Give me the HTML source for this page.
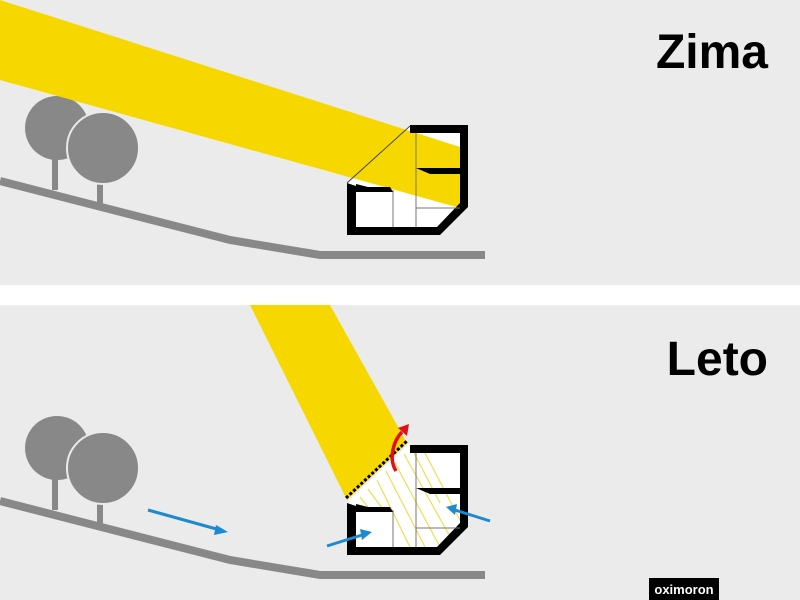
<!DOCTYPE html>
<html><head><style>
body{margin:0;background:#fff}
svg{display:block}
text{font-family:"Liberation Sans",sans-serif}
</style></head><body>
<svg width="800" height="600" viewBox="0 0 800 600" xmlns="http://www.w3.org/2000/svg">
<defs>
<clipPath id="c1"><rect x="0" y="0" width="460" height="285"/></clipPath>
<g id="trees">
<rect x="52" y="140" width="6" height="50" fill="#888"/>
<rect x="97" y="170" width="6" height="35" fill="#888"/>
<circle cx="57" cy="128" r="32" fill="#888"/>
<circle cx="103" cy="148" r="36" fill="#888" stroke="#ebebeb" stroke-width="2"/>
<polyline points="0,181 230,240 320,255 485,255" fill="none" stroke="#888" stroke-width="8"/>
</g>
<g id="inner">
<path d="M347,183 L410,125 L460,133 L460,203 L437,227 L356,227 L356,190 Z" fill="#fff"/>
</g>
<g id="walls">
<path fill="#000" d="M410,125 L468,125 L468,207 L440,235 L347,235 L347,183 L356,186 L356,227 L437,227 L460,203 L460,133 L410,133 Z"/>
<line x1="393" y1="190" x2="393" y2="227" stroke="#777" stroke-width="1"/>
<line x1="416" y1="133" x2="416" y2="227" stroke="#777" stroke-width="1"/>
<line x1="416" y1="208" x2="460" y2="208" stroke="#777" stroke-width="1"/>
<path d="M416,168 L460,168 L460,174 L430,174 Z" fill="#000"/>
<path d="M356,184 L368,187 L390,187 L393,192 L356,192 Z" fill="#000"/>
</g>
</defs>
<rect x="0" y="0" width="800" height="285" fill="#ebebeb"/>
<rect x="0" y="305" width="800" height="295" fill="#ebebeb"/>

<!-- top -->
<use href="#trees"/>
<use href="#inner"/>
<polygon points="0,0 460,147 460,208 0,80" fill="#f6d800" clip-path="url(#c1)"/>
<use href="#walls"/>
<line x1="347" y1="183" x2="410" y2="126" stroke="#444" stroke-width="1"/>
<text x="768" y="68" font-size="48" text-anchor="end" font-weight="bold" fill="#000">Zima</text>

<!-- bottom -->
<g transform="translate(0,320)">
<use href="#trees"/>
<use href="#inner"/>
<g stroke="#f0de50" stroke-width="1.2">
<line x1="360" y1="177" x2="372" y2="192"/>
<line x1="368" y1="169" x2="385" y2="192"/>
<line x1="377" y1="160" x2="410" y2="227"/>
<line x1="386" y1="151" x2="425" y2="227"/>
<line x1="395" y1="143" x2="440" y2="227"/>
<line x1="404" y1="134" x2="453" y2="222"/>
<line x1="414" y1="133" x2="440" y2="183"/>
<line x1="425" y1="133" x2="460" y2="200"/>
</g>
<use href="#walls"/>
</g>
<polygon points="250,305 330,305 407,443 347,500" fill="#f6d800"/>
<line x1="346" y1="498" x2="408" y2="440" stroke="#000" stroke-width="3" stroke-dasharray="3,2"/>
<line x1="349" y1="501" x2="411" y2="443" stroke="#fff" stroke-width="1.5"/>
<path d="M396,471 C388,458 394,440 402,432" fill="none" stroke="#e0101b" stroke-width="3.5"/>
<polygon points="398,428 409,424 407,436" fill="#e0101b"/>
<g stroke="#1b8ad0" stroke-width="3" fill="#1b8ad0">
<line x1="148" y1="510" x2="220" y2="530"/><polygon points="228,532 216,525 214,535" stroke="none"/>
<line x1="327" y1="546" x2="362" y2="535"/><polygon points="372,532 360,529 362,540" stroke="none"/>
<line x1="490" y1="521" x2="455" y2="510"/><polygon points="446,507 457,504 455,515" stroke="none"/>
</g>
<text x="768" y="375" font-size="48" text-anchor="end" font-weight="bold" fill="#000">Leto</text>

<rect x="649" y="578" width="70" height="22" fill="#000"/>
<text x="684" y="594" font-size="13" font-weight="bold" text-anchor="middle" fill="#fff">oximoron</text>
</svg>
</body></html>
